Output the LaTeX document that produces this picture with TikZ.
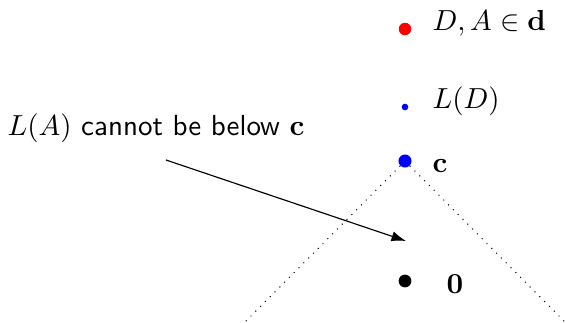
\documentclass[tikz,border=0pt]{standalone}
\usepackage{amsmath}
\usetikzlibrary{arrows.meta}
\begin{document}
\begin{tikzpicture}[x=0.345pt,y=-0.345pt,
  dotpt/.style={circle,inner sep=0pt,minimum size=#1},
  lbl/.style={anchor=base west,inner sep=0pt},
  edge/.style={dotted,line width=0.35pt},
  arr/.style={-{Latex[length=5pt,width=3.5pt]},line width=0.4pt}]
\useasboundingbox (0,0) rectangle (565,322);
\node[dotpt=4.3pt,fill=red] (d) at (405,29) {};
\node[dotpt=2.3pt,fill=blue] (ld) at (405,107) {};
\node[dotpt=4.5pt,fill=blue] (c) at (405,161) {};
\node[dotpt=4.4pt,fill=black] (z) at (405,281) {};
\node[lbl] (dl) at (432,30) {$D,A\in\mathbf{d}$};
\node[lbl] (ldl) at (432,108) {$L(D)$};
\node[lbl] (cl) at (432,172) {$\mathbf{c}$};
\node[lbl] (zl) at (446,293) {$\mathbf{0}$};
\node[lbl] (t) at (7,135) {$L(A)$ \textsf{cannot be below} $\mathbf{c}$};
\coordinate (bl) at (245,322);
\coordinate (br) at (565,322);
\coordinate (as) at (166,160);
\coordinate (ae) at (406,241);
\draw[edge] (c.center) -- (bl);
\draw[edge] (c.center) -- (br);
\draw[arr] (as) -- (ae);
\end{tikzpicture}
\end{document}
